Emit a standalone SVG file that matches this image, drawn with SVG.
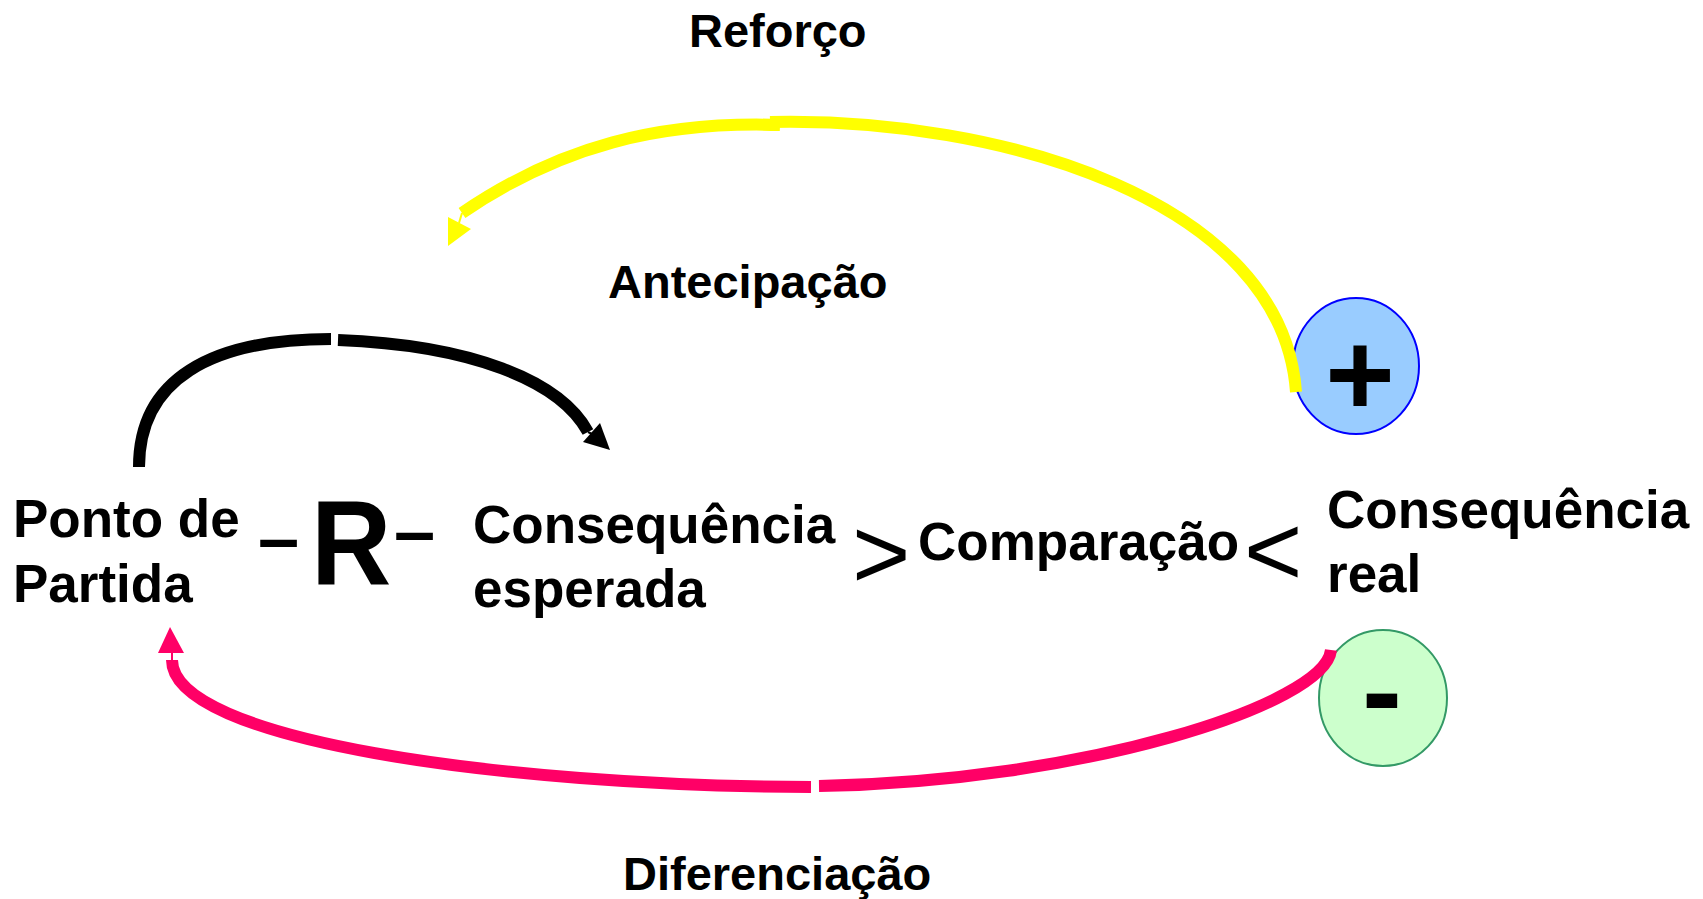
<svg xmlns="http://www.w3.org/2000/svg" width="1703" height="899" viewBox="0 0 1703 899">
  <style>
    .t { font-family: "Liberation Sans", Arial, sans-serif; font-weight: bold; fill: #000; }
    .lbl { font-size: 47px; }
    .main { font-size: 53px; }
    .cmp { font-family: "Liberation Sans", Arial, sans-serif; font-weight: normal; font-size: 100px; fill: #000; }
    .yel { fill: none; stroke: #ffff00; stroke-width: 12; }
    .blk { fill: none; stroke: #000000; stroke-width: 12; }
    .pnk { fill: none; stroke: #ff0066; stroke-width: 12; }
  </style>
  <rect width="1703" height="899" fill="#ffffff"/>

  <g id="node-reforco-label"><text class="t lbl" x="689" y="47">Reforço</text></g>
  <g id="node-antecipacao-label"><text class="t lbl" x="608" y="298">Antecipação</text></g>
  <g id="node-diferenciacao-label"><text class="t lbl" x="623" y="890">Diferenciação</text></g>

  <g id="node-ponto-de-partida">
    <text class="t main" x="13" y="537">Ponto de</text>
    <text class="t main" x="13" y="602">Partida</text>
  </g>

  <g id="node-R">
    <text class="t" x="258" y="563" font-size="74">–</text>
    <text class="t" font-size="121" transform="translate(311 585) scale(0.92 1)" x="0" y="0">R</text>
    <text class="t" x="394" y="556" font-size="74">–</text>
  </g>

  <g id="node-consequencia-esperada">
    <text class="t main" x="473" y="543">Consequência</text>
    <text class="t main" x="473" y="607">esperada</text>
  </g>

  <g id="node-comparacao">
    <text class="cmp" x="852" y="588">&gt;</text>
    <text class="t main" x="918" y="560">Comparação</text>
    <text class="cmp" x="1244" y="585">&lt;</text>
  </g>

  <g id="node-consequencia-real">
    <text class="t main" x="1327" y="528">Consequência</text>
    <text class="t main" x="1327" y="592">real</text>
  </g>

  <g id="node-plus">
    <ellipse cx="1356" cy="366" rx="63" ry="68" fill="#99ccff" stroke="#0000ff" stroke-width="2"/>
    <text class="t" x="1360" y="415" font-size="119" text-anchor="middle">+</text>
  </g>

  <g id="node-minus">
    <ellipse cx="1383" cy="698" rx="64" ry="68" fill="#ccffcc" stroke="#339966" stroke-width="2"/>
    <text class="t" x="1382" y="732" font-size="120" text-anchor="middle">-</text>
  </g>

  <g id="connectors">
    <!-- Reforço (yellow) -->
    <path class="yel" d="M 770 122 C 1000 117, 1282 200, 1296 392"/>
    <path class="yel" d="M 780 125 C 660 121, 560 146, 462 213"/>
    <line x1="462" y1="213" x2="459" y2="223" stroke="#ffff00" stroke-width="2"/>
    <polygon points="448,217 471,229 448,246" fill="#ffff00"/>
    <!-- Antecipação (black) -->
    <path class="blk" d="M 139 467 C 139 380, 210 339, 331 339"/>
    <path class="blk" d="M 338 340 C 470 345, 560 380, 588 432"/>
    <line x1="588" y1="432" x2="592" y2="434" stroke="#000" stroke-width="2"/>
    <polygon points="600,423 583,442 610,450" fill="#000"/>
    <!-- Diferenciação (pink) -->
    <path class="pnk" d="M 819 786 C 1080 782, 1325 705, 1331 650"/>
    <path class="pnk" d="M 811 787 C 500 786, 172 740, 172 660"/>
    <line x1="172" y1="660" x2="172" y2="652" stroke="#ff0066" stroke-width="2"/>
    <polygon points="170,627 158,653 184,653" fill="#ff0066"/>
  </g>
</svg>
